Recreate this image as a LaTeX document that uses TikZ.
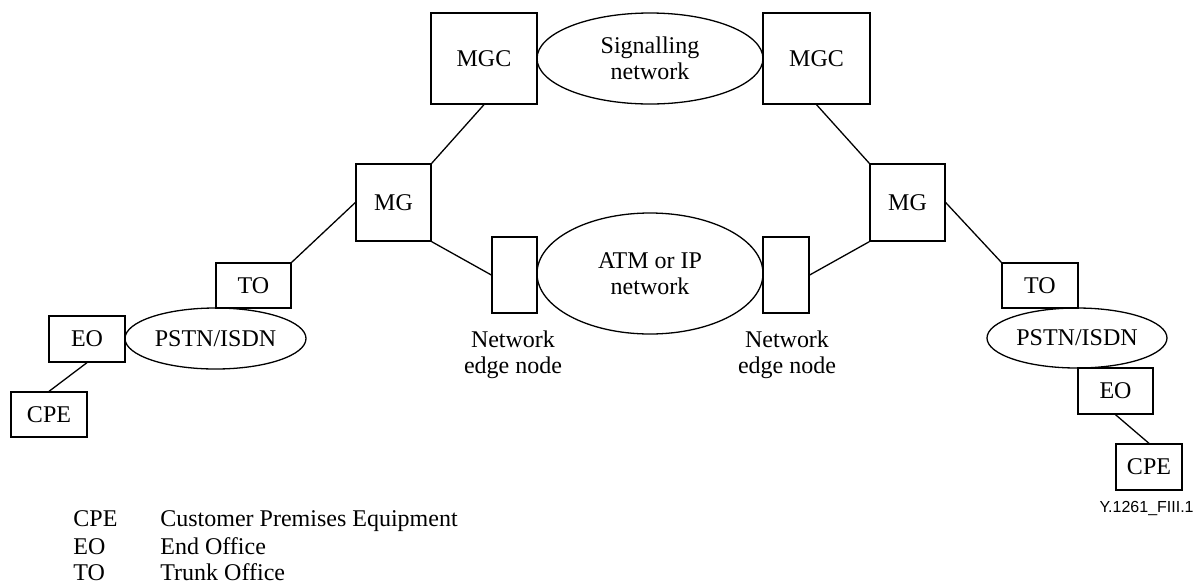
\documentclass[tikz,border=0pt]{standalone}
\usepackage{fontspec}
\setmainfont{Liberation Serif}
\newfontfamily\figsans{Liberation Sans}
\usetikzlibrary{shapes.geometric}
\begin{document}
\begin{tikzpicture}[x=0.5pt,y=-0.5pt,
  every node/.style={font=\fontsize{12}{13}\selectfont, inner sep=0pt},
  box/.style={draw, line width=0.65pt, rectangle},
  cloud/.style={draw, line width=0.65pt, ellipse},
  link/.style={line width=0.65pt},
  txt/.style={align=center}]
\useasboundingbox (0,0) rectangle (1196,585);

% control plane
\node[box, minimum width=53pt, minimum height=45.5pt] (mgcL) at (484,58.5) {MGC};
\node[cloud, minimum width=113pt, minimum height=45.5pt, align=center] (sig) at (650,58.5) {Signalling\\network};
\node[box, minimum width=53.5pt, minimum height=45.5pt] (mgcR) at (816.5,58.5) {MGC};

% media gateways
\node[box, minimum width=37.5pt, minimum height=38.5pt] (mgL) at (393.5,202.5) {MG};
\node[box, minimum width=37.5pt, minimum height=38.5pt] (mgR) at (907.5,202.5) {MG};

% transport network with its edge nodes
\node[box, minimum width=22.5pt, minimum height=38pt] (edgeL) at (514.5,275) {};
\node[cloud, minimum width=113pt, minimum height=60.5pt, align=center] (atm) at (650,273.5) {ATM or IP\\network};
\node[box, minimum width=23pt, minimum height=38pt] (edgeR) at (786,275) {};
\node[txt] (edgeLlbl) at (513,355) {Network\\edge node};
\node[txt] (edgeRlbl) at (787,355) {Network\\edge node};

% left access side
\node[box, minimum width=37.5pt, minimum height=22.5pt] (toL) at (253.5,285.5) {TO};
\node[cloud, minimum width=90.5pt, minimum height=30.5pt] (pstnL) at (215.5,338.5) {PSTN/ISDN};
\node[box, minimum width=38pt, minimum height=23pt] (eoL) at (87,339) {EO};
\node[box, minimum width=38pt, minimum height=22.5pt] (cpeL) at (49,414.5) {CPE};

% right access side
\node[box, minimum width=38pt, minimum height=22.5pt] (toR) at (1040,285.5) {TO};
\node[cloud, minimum width=90pt, minimum height=30pt] (pstnR) at (1077,338) {PSTN/ISDN};
\node[box, minimum width=37.5pt, minimum height=23pt] (eoR) at (1115.5,391) {EO};
\node[box, minimum width=33pt, minimum height=23pt] (cpeR) at (1149,467) {CPE};

% connectors
\draw[link] (mgcL.south) -- (mgL.north east);
\draw[link] (mgcR.south) -- (mgR.north west);
\draw[link] (mgL.south east) -- (edgeL.west);
\draw[link] (edgeR.east) -- (mgR.south west);
\draw[link] (toL.north east) -- (mgL.west);
\draw[link] (mgR.east) -- (toR.north west);
\draw[link] (eoL.south) -- (cpeL.north);
\draw[link] (eoR.south) -- (cpeR.north);

% figure reference
\node[anchor=base east, font=\figsans\fontsize{8}{9}\selectfont] (figref) at (1194,512) {Y.1261\_FIII.1};

% legend
\node[anchor=base west] (k1) at (73,526) {CPE};
\node[anchor=base west] (d1) at (160,526) {Customer Premises Equipment};
\node[anchor=base west] (k2) at (73,554) {EO};
\node[anchor=base west] (d2) at (160,554) {End Office};
\node[anchor=base west] (k3) at (73,580) {TO};
\node[anchor=base west] (d3) at (160,580) {Trunk Office};
\end{tikzpicture}
\end{document}
